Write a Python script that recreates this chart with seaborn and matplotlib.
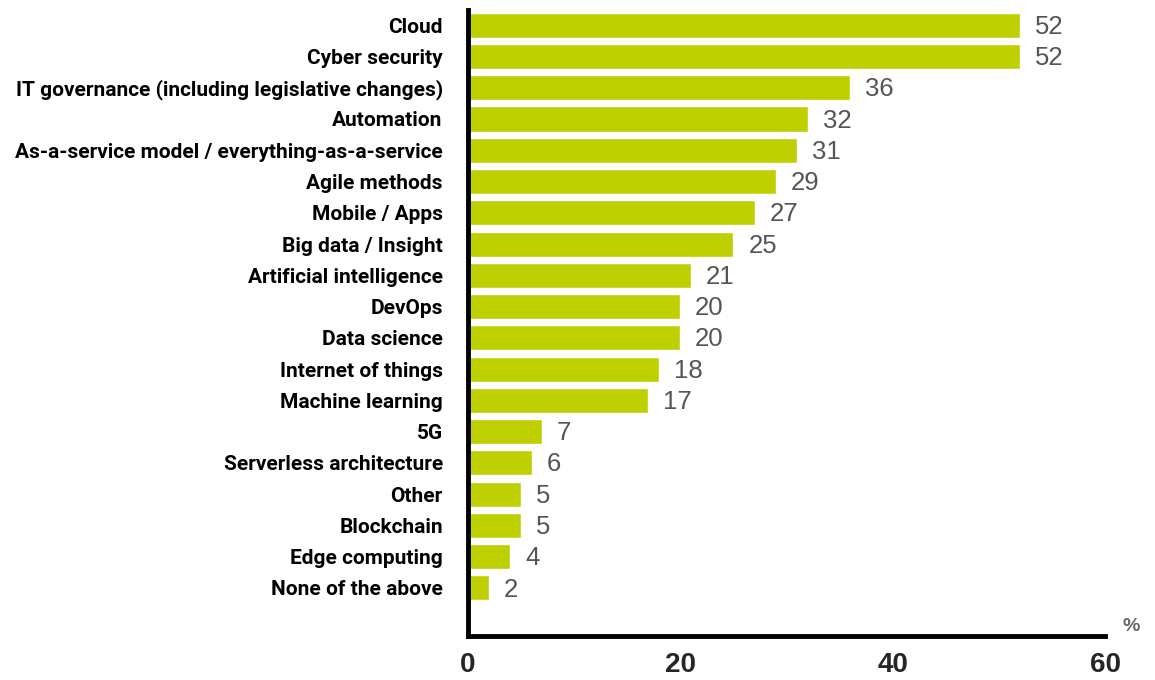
import pandas as pd
import seaborn as sns
import matplotlib.pyplot as plt

# Survey answers (percent)
topics = [
    'Cloud', 'Cyber security', 'IT governance (including legislative changes)',
    'Automation', 'As-a-service model / everything-as-a-service', 'Agile methods',
    'Mobile / Apps', 'Big data / Insight', 'Artificial intelligence', 'DevOps',
    'Data science', 'Internet of things', 'Machine learning', '5G',
    'Serverless architecture', 'Other', 'Blockchain', 'Edge computing',
    'None of the above',
]
shares = [52, 52, 36, 32, 31, 29, 27, 25, 21, 20, 20, 18, 17, 7, 6, 5, 5, 4, 2]
xticks = [0, 20, 40, 60]

df = pd.DataFrame({'topic': topics, 'share': shares})

sns.set_style('white')
fig = plt.figure(figsize=(11.55, 6.8), dpi=100)
ax = fig.add_axes([0.405, 0.065, 0.552, 0.92])

sns.barplot(data=df, x='share', y='topic', color='#bfd000', saturation=1,
            width=0.8, ax=ax)

for i, v in enumerate(shares):
    ax.text(v + 1.4, i + 0.05, str(v), va='center', ha='left', fontsize=18.5,
            color='#555555', family='Liberation Sans')

ax.set_xlim(0, 60)
ax.set_ylim(19.53, -0.48)
ax.set_xticks(xticks)
ax.set_xticklabels([str(t) for t in xticks], fontsize=20, fontweight='bold',
                   family=['Liberation Sans Narrow', 'Liberation Sans'])
ax.set_yticks(range(len(topics)))
ax.set_yticklabels(topics, fontsize=15, fontweight='bold', family='Roboto',
                   color='black')
ax.set_xlabel('')
ax.set_ylabel('')

sns.despine(ax=ax)
for side in ['left', 'bottom']:
    ax.spines[side].set_linewidth(3.5)
    ax.spines[side].set_color('black')
ax.tick_params(axis='x', length=5, width=3.5, direction='out', pad=7)
ax.tick_params(axis='y', length=0, pad=18)

ax.text(1.04, 0.015, '%', transform=ax.transAxes, fontsize=14,
        fontweight='bold', color='#666666', ha='center', va='center',
        family='Liberation Sans')

fig.savefig('out.png', dpi=100)
